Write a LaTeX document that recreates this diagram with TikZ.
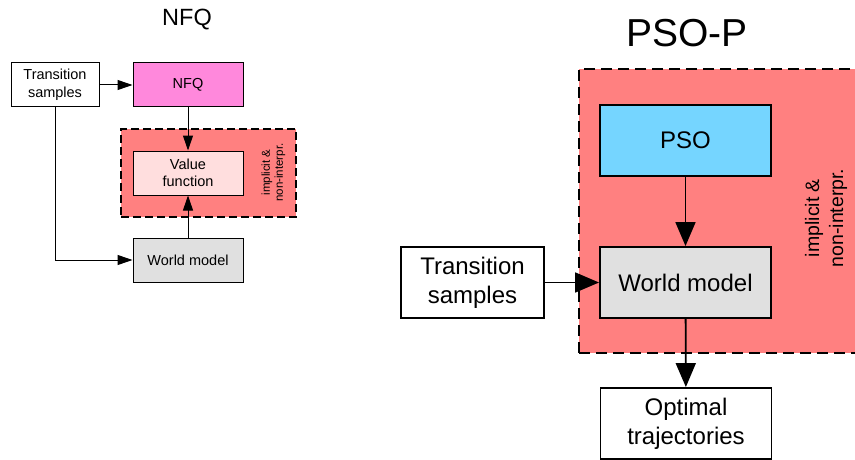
\documentclass[tikz,border=0pt]{standalone}
\usepackage{fontspec}
\setmainfont{Liberation Sans}
\usetikzlibrary{arrows.meta}
\definecolor{nfqpink}{RGB}{255,136,220}
\definecolor{implred}{RGB}{255,128,128}
\definecolor{vfpink}{RGB}{255,222,222}
\definecolor{wmgray}{RGB}{224,224,224}
\definecolor{psoblue}{RGB}{117,213,255}
\begin{document}
\begin{tikzpicture}[x=1pt,y=-1pt,
  smallbox/.style={draw, line width=1pt, minimum width=110pt, minimum height=44pt, inner sep=0pt, align=center, font=\fontsize{14.5}{17.5}\selectfont},
  bigbox/.style={draw, line width=1.9pt, minimum width=171pt, minimum height=71pt, inner sep=0pt, align=center, font=\fontsize{24}{29}\selectfont},
  smallarrow/.style={-{Triangle[length=15pt,width=10pt]}, line width=1pt},
  bigarrow/.style={-{Triangle[length=24pt,width=20pt]}, line width=1.8pt},
  implbox/.style={draw, fill=implred, inner sep=0pt},
  titletext/.style={inner sep=0pt, anchor=center}
]
\useasboundingbox (0,0) rectangle (855,460);
\clip (0,0) rectangle (855,460);

% ---------- Left: NFQ ----------
\node[titletext, font=\fontsize{23.5}{28}\selectfont] (t1) at (187,20) {NFQ};

\node[implbox, line width=1.2pt, dash pattern=on 8pt off 4pt, minimum width=175pt, minimum height=88pt] (imp1) at (208.5,173) {};
\node[rotate=90, align=center, inner sep=0pt, font=\fontsize{11.5}{13}\selectfont] (imp1lbl) at (273.5,172.5) {implicit \&\\non-interpr.};

\node[smallbox, fill=white, minimum width=88pt] (ts1) at (55,85) {Transition\\samples};
\node[smallbox, fill=nfqpink] (nfq) at (188,85) {NFQ};
\node[smallbox, fill=vfpink] (vf) at (188,173) {Value\\function};
\node[smallbox, fill=wmgray] (wm1) at (188,260) {World model};

\draw[smallarrow] (ts1) -- (nfq);
\draw[smallarrow] (nfq) -- (vf);
\draw[smallarrow] (wm1) -- (vf);
\draw[smallarrow] (ts1.south) |- (wm1.west);

% ---------- Right: PSO-P ----------
\node[titletext, font=\fontsize{39}{46}\selectfont] (t2) at (687,33) {PSO-P};

\node[implbox, line width=2pt, dash pattern=on 11pt off 6pt, minimum width=291pt, minimum height=284pt] (imp2) at (724.5,211) {};
\node[rotate=90, align=center, inner sep=0pt, font=\fontsize{19.5}{24}\selectfont] (imp2lbl) at (826,218) {implicit \&\\non-interpr.};

\node[bigbox, fill=psoblue] (pso) at (685.5,140.5) {PSO};
\node[bigbox, fill=wmgray] (wm2) at (685.5,282.5) {World model};
\node[bigbox, fill=white, minimum width=143pt] (ts2) at (472.5,282.5) {Transition\\samples};
\node[bigbox, fill=white] (opt) at (686,423.5) {Optimal\\trajectories};

\draw[bigarrow] (pso) -- (wm2);
\draw[bigarrow] (ts2) -- (wm2);
\draw[bigarrow] (wm2) -- (opt);
\end{tikzpicture}
\end{document}
